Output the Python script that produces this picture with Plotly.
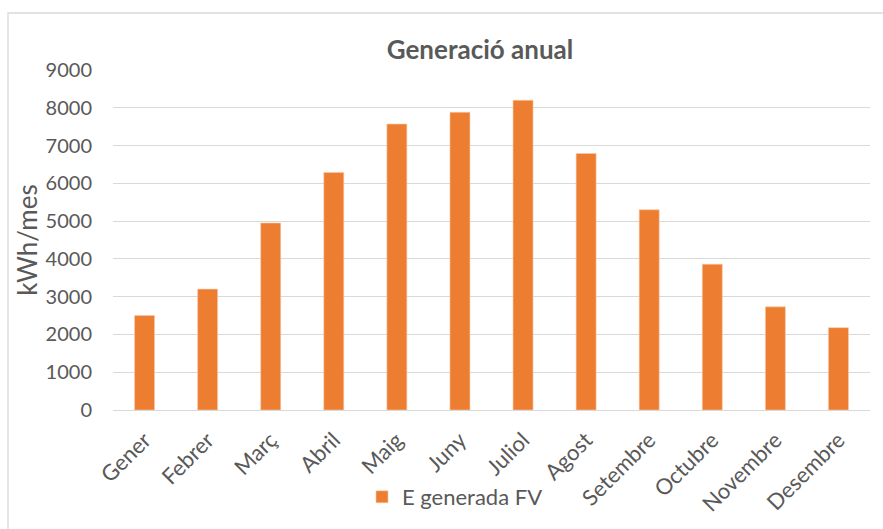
import plotly.graph_objects as go

months = ["Gener", "Febrer", "Març", "Abril", "Maig", "Juny", "Juliol",
          "Agost", "Setembre", "Octubre", "Novembre", "Desembre"]
generation = [2500, 3200, 4950, 6290, 7570, 7880, 8200, 6790, 5300, 3860, 2730, 2180]
y_ticks = [0, 1000, 2000, 3000, 4000, 5000, 6000, 7000, 8000, 9000]

FONT = "Lato"
TXT = "#595959"

W, H = 883, 529
L, R, T, B = 113, 13, 70, 119
pw, ph = W - L - R, H - T - B

def px(x):
    return (x - L) / pw

def py(y):
    return (H - B - y) / ph

fig = go.Figure()
fig.add_trace(go.Bar(
    x=months, y=generation, name="E generada FV",
    marker=dict(color="#ED7D31", line=dict(color="#F8CBAD", width=0.6)),
    showlegend=True,
))

fig.update_layout(
    width=W, height=H,
    margin=dict(l=L, r=R, t=T, b=B, autoexpand=False),
    paper_bgcolor="white", plot_bgcolor="white",
    font=dict(family=FONT, size=19, color=TXT),
    bargap=0.683,
    title=dict(text="<b>Generació anual</b>", x=px(480), xref="paper", xanchor="center",
               y=1 - 50 / H, yref="container", yanchor="middle",
               font=dict(family=FONT, size=26, color=TXT)),
    xaxis=dict(tickangle=-45, showgrid=False, showline=False, zeroline=False,
               ticks="", ticklabelstandoff=12, tickfont=dict(size=22, color=TXT)),
    yaxis=dict(range=[0, 9000], tickvals=y_ticks, ticktext=[str(v) for v in y_ticks],
               showgrid=True, gridcolor="#D9D9D9", gridwidth=1.3,
               zeroline=True, zerolinecolor="#D9D9D9", zerolinewidth=1.3,
               showline=False, ticks="", ticklabelstandoff=20,
               tickfont=dict(size=20, color=TXT),
               title=dict(text="kWh/mes", font=dict(size=26, color=TXT), standoff=0)),
    legend=dict(orientation="h", x=px(362), xanchor="left", y=py(497), yanchor="middle",
                font=dict(size=22, color=TXT), bgcolor="rgba(0,0,0,0)",
                itemwidth=30),
    shapes=[dict(type="rect", xref="paper", yref="paper",
                 x0=px(8), x1=px(W + 20), y0=py(H + 20), y1=py(13),
                 line=dict(color="#D9D9D9", width=1.3), layer="below")],
)

fig.write_html("out.html", config={"displayModeBar": False},
               post_script="document.body.style.margin='0';")
